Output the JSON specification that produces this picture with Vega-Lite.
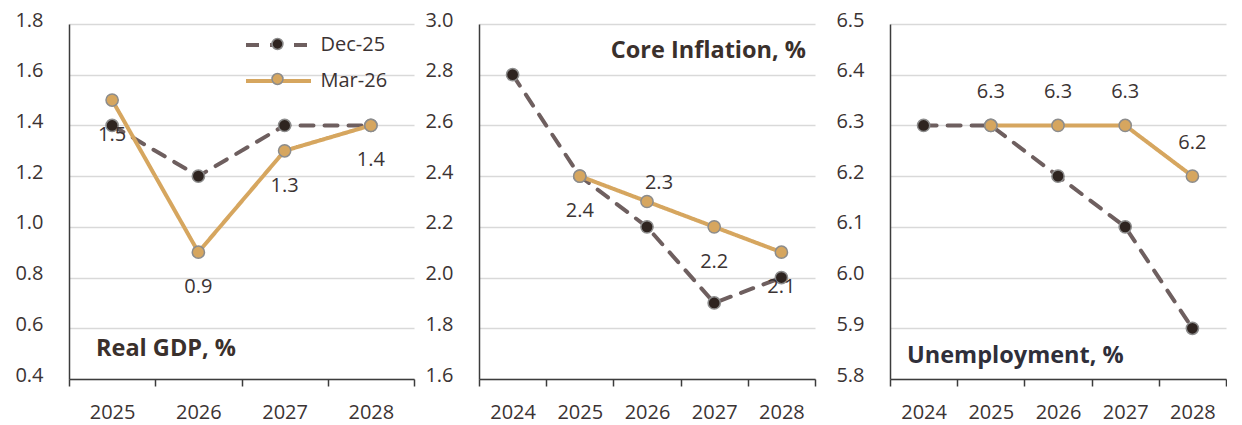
{
  "$schema": "https://vega.github.io/schema/vega-lite/v6.json",
  "background": "white",
  "padding": {"left": 14, "top": 10, "right": 0, "bottom": 3},
  "spacing": 9,
  "datasets": {
    "gdp": [
      {"year": "2025", "series": "Dec-25", "value": 1.4},
      {"year": "2026", "series": "Dec-25", "value": 1.2},
      {"year": "2027", "series": "Dec-25", "value": 1.4},
      {"year": "2028", "series": "Dec-25", "value": 1.4},
      {"year": "2025", "series": "Mar-26", "value": 1.5},
      {"year": "2026", "series": "Mar-26", "value": 0.9},
      {"year": "2027", "series": "Mar-26", "value": 1.3},
      {"year": "2028", "series": "Mar-26", "value": 1.4}
    ],
    "core": [
      {"year": "2024", "series": "Dec-25", "value": 2.8},
      {"year": "2025", "series": "Dec-25", "value": 2.4},
      {"year": "2026", "series": "Dec-25", "value": 2.2},
      {"year": "2027", "series": "Dec-25", "value": 1.9},
      {"year": "2028", "series": "Dec-25", "value": 2.0},
      {"year": "2025", "series": "Mar-26", "value": 2.4},
      {"year": "2026", "series": "Mar-26", "value": 2.3},
      {"year": "2027", "series": "Mar-26", "value": 2.2},
      {"year": "2028", "series": "Mar-26", "value": 2.1}
    ],
    "unemp": [
      {"year": "2024", "series": "Dec-25", "value": 6.3},
      {"year": "2025", "series": "Dec-25", "value": 6.3},
      {"year": "2026", "series": "Dec-25", "value": 6.2},
      {"year": "2027", "series": "Dec-25", "value": 6.1},
      {"year": "2028", "series": "Dec-25", "value": 5.9},
      {"year": "2025", "series": "Mar-26", "value": 6.3},
      {"year": "2026", "series": "Mar-26", "value": 6.3},
      {"year": "2027", "series": "Mar-26", "value": 6.3},
      {"year": "2028", "series": "Mar-26", "value": 6.2}
    ]
  },
  "config": {
    "font": "Open Sans",
    "view": {"stroke": null},
    "axis": {
      "labelFont": "Open Sans",
      "labelFontSize": 20,
      "labelColor": "#3b3333",
      "domainColor": "#3c3c3c",
      "domainWidth": 1.5,
      "tickColor": "#3c3c3c",
      "tickWidth": 1.5,
      "gridColor": "#d9d9d9",
      "gridWidth": 1.5,
      "title": null
    },
    "axisX": {"grid": false, "tickSize": 7, "labelPadding": 16, "labelAngle": 0, "tickBand": "extent"},
    "axisY": {"ticks": false, "labelPadding": 26, "labelOffset": -4, "format": ".1f"},
    "title": {"font": "Open Sans", "fontSize": 23.5, "fontWeight": "bold", "color": "#3a302c", "offset": 0, "baseline": "middle", "frame": "group"}
  },
  "resolve": {
    "scale": {"color": "independent", "strokeDash": "independent", "fill": "independent"},
    "legend": {"color": "independent", "strokeDash": "independent", "fill": "independent"}
  },
  "hconcat": [
    {
      "width": 345,
      "height": 355,
      "data": {"name": "gdp"},
      "title": {"text": "Real GDP, %", "anchor": "start", "dx": 27, "dy": 354},
      "encoding": {
        "x": {"field": "year", "type": "ordinal", "scale": {"type": "band", "paddingInner": 0, "paddingOuter": 0}},
        "y": {"field": "value", "type": "quantitative", "scale": {"domain": [0.4, 1.8], "zero": false, "nice": false}, "axis": {"values": [0.4, 0.6, 0.8, 1.0, 1.2, 1.4, 1.6, 1.8]}}
      },
      "layer": [
        {
          "mark": {"type": "line", "strokeWidth": 4, "strokeCap": "round"},
          "encoding": {
            "color": {"field": "series", "type": "nominal", "scale": {"domain": ["Dec-25", "Mar-26"], "range": ["#6e5f5f", "#d6a65f"]},
              "legend": {"orient": "none", "legendX": 194.5, "legendY": 6, "title": null, "symbolType": "M-2.5,0H2.5", "symbolSize": 676, "symbolStrokeWidth": 4, "labelFontSize": 20, "labelFont": "Open Sans", "labelColor": "#3b3333", "labelOffset": 27, "rowPadding": 11, "padding": 0}},
            "strokeDash": {"field": "series", "type": "nominal", "scale": {"domain": ["Dec-25", "Mar-26"], "range": [[13, 11], [1, 0]]},
              "legend": {"orient": "none", "legendX": 194.5, "legendY": 6, "title": null, "symbolType": "M-2.5,0H2.5", "symbolSize": 676, "symbolStrokeWidth": 4, "labelFontSize": 20, "labelFont": "Open Sans", "labelColor": "#3b3333", "labelOffset": 27, "rowPadding": 11, "padding": 0}}
          }
        },
        {
          "mark": {"type": "point", "filled": true, "size": 150, "stroke": "#8c8c8c", "strokeWidth": 1.5, "opacity": 1},
          "encoding": {
            "fill": {"field": "series", "type": "nominal", "scale": {"range": ["#2e2420", "#d6a65f"]},
              "legend": {"orient": "none", "legendX": 194.5, "legendY": 6, "title": null, "symbolType": "M0.42,0A0.42,0.42,0,1,1,-0.42,0A0.42,0.42,0,1,1,0.42,0Z", "symbolSize": 676, "symbolStrokeColor": "#8c8c8c", "symbolStrokeWidth": 1.5, "labelFontSize": 20, "labelFont": "Open Sans", "labelOpacity": 0, "labelOffset": 27, "rowPadding": 11, "padding": 0}}
          }
        },
        {
          "transform": [{"filter": "datum.series === 'Mar-26'"}],
          "mark": {"type": "text", "dy": 35, "fontSize": 20, "font": "Open Sans", "color": "#3b3333"},
          "encoding": {"text": {"field": "value", "type": "quantitative", "format": ".1f"}}
        }
      ]
    },
    {
      "width": 336,
      "height": 355,
      "data": {"name": "core"},
      "title": {"text": "Core Inflation, %", "anchor": "end", "dx": -9, "dy": 56},
      "encoding": {
        "x": {"field": "year", "type": "ordinal", "scale": {"type": "band", "paddingInner": 0, "paddingOuter": 0}},
        "y": {"field": "value", "type": "quantitative", "scale": {"domain": [1.6, 3.0], "zero": false, "nice": false}, "axis": {"values": [1.6, 1.8, 2.0, 2.2, 2.4, 2.6, 2.8, 3.0]}}
      },
      "layer": [
        {
          "mark": {"type": "line", "strokeWidth": 4, "strokeCap": "round"},
          "encoding": {
            "color": {"field": "series", "type": "nominal", "scale": {"domain": ["Dec-25", "Mar-26"], "range": ["#6e5f5f", "#d6a65f"]}, "legend": null},
            "strokeDash": {"field": "series", "type": "nominal", "scale": {"domain": ["Dec-25", "Mar-26"], "range": [[13, 11], [1, 0]]}, "legend": null}
          }
        },
        {
          "mark": {"type": "point", "filled": true, "size": 150, "stroke": "#8c8c8c", "strokeWidth": 1.5, "opacity": 1},
          "encoding": {
            "fill": {"field": "series", "type": "nominal", "scale": {"range": ["#2e2420", "#d6a65f"]}, "legend": null}
          }
        },
        {
          "transform": [{"filter": "datum.series === 'Mar-26' && datum.year !== '2026'"}],
          "mark": {"type": "text", "dy": 35, "fontSize": 20, "font": "Open Sans", "color": "#3b3333"},
          "encoding": {"text": {"field": "value", "type": "quantitative", "format": ".1f"}}
        },
        {
          "transform": [{"filter": "datum.series === 'Mar-26' && datum.year === '2026'"}],
          "mark": {"type": "text", "dy": -19, "dx": 12, "fontSize": 20, "font": "Open Sans", "color": "#3b3333"},
          "encoding": {"text": {"field": "value", "type": "quantitative", "format": ".1f"}}
        }
      ]
    },
    {
      "width": 336,
      "height": 355,
      "data": {"name": "unemp"},
      "title": {"text": "Unemployment, %", "anchor": "start", "dx": 17, "dy": 361, "color": "#2f2f3a"},
      "encoding": {
        "x": {"field": "year", "type": "ordinal", "scale": {"type": "band", "paddingInner": 0, "paddingOuter": 0}},
        "y": {"field": "value", "type": "quantitative", "scale": {"domain": [5.8, 6.5], "zero": false, "nice": false}, "axis": {"values": [5.8, 5.9, 6.0, 6.1, 6.2, 6.3, 6.4, 6.5], "minExtent": 65}}
      },
      "layer": [
        {
          "mark": {"type": "line", "strokeWidth": 4, "strokeCap": "round"},
          "encoding": {
            "color": {"field": "series", "type": "nominal", "scale": {"domain": ["Dec-25", "Mar-26"], "range": ["#6e5f5f", "#d6a65f"]}, "legend": null},
            "strokeDash": {"field": "series", "type": "nominal", "scale": {"domain": ["Dec-25", "Mar-26"], "range": [[13, 11], [1, 0]]}, "legend": null}
          }
        },
        {
          "mark": {"type": "point", "filled": true, "size": 150, "stroke": "#8c8c8c", "strokeWidth": 1.5, "opacity": 1},
          "encoding": {
            "fill": {"field": "series", "type": "nominal", "scale": {"range": ["#2e2420", "#d6a65f"]}, "legend": null}
          }
        },
        {
          "transform": [{"filter": "datum.series === 'Mar-26'"}],
          "mark": {"type": "text", "dy": -33, "fontSize": 20, "font": "Open Sans", "color": "#3b3333"},
          "encoding": {"text": {"field": "value", "type": "quantitative", "format": ".1f"}}
        }
      ]
    }
  ]
}
